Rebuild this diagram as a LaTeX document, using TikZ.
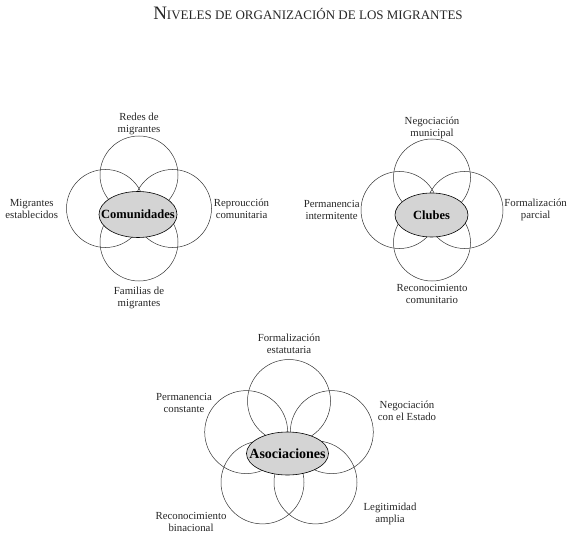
\documentclass[tikz,border=0pt]{standalone}
\usepackage{fontspec}
\setmainfont{Liberation Serif}
\usetikzlibrary{shapes.geometric, positioning}
\tikzset{
  % The 'ring' style is the thin open circle around each core
  ring/.style={draw=black!80, line width=0.5pt, shape=circle, inner sep=0pt},
  % The 'core' style is the gray ellipse holding the level name
  core/.style={fill=black!17, draw=black, line width=0.6pt, shape=ellipse, inner xsep=-12pt, inner ysep=0pt, font=\bfseries\fontsize{12.5}{14}\selectfont},
  % The 'tag-text' style is for the small labels around the circles
  tag-text/.style={font=\fontsize{10.8}{12}\selectfont, align=center, text=black!85, inner sep=0pt},
  % The 'title-text' style is for the heading at the top
  title-text/.style={anchor=center, text=black!85, inner sep=0pt}
}

\begin{document}
\begin{tikzpicture}[x=1pt, y=-1pt]

  \useasboundingbox (0,0) rectangle (577,537);

  % Heading
  \node[title-text] at (308,13) (title) {{\fontsize{19}{19}\selectfont N}{\fontsize{13}{13}\selectfont IVELES DE ORGANIZACIÓN DE LOS MIGRANTES}};

  % Comunidades: four circles round the core
  \begin{scope}[shift={(139,208.5)}]
    \node[ring, minimum size=78pt] at (0,-33.5) (com-top) {};
    \node[ring, minimum size=78pt] at (-33.5,0) (com-left) {};
    \node[ring, minimum size=78pt] at (33.5,0) (com-right) {};
    \node[ring, minimum size=78pt] at (0,33.5) (com-bottom) {};
    \node[core, minimum width=78pt, minimum height=46pt] at (-1,6) (com-core) {Comunidades};
  \end{scope}
  \node[tag-text, above=1pt of com-top] (com-redes) {Redes de\\migrantes};
  \node[tag-text, left=8pt of com-left] (com-estab) {Migrantes\\establecidos};
  \node[tag-text, right=2pt of com-right] (com-repro) {Reproucción\\comunitaria};
  \node[tag-text, below=6pt of com-bottom] (com-fam) {Familias de\\migrantes};

  % Clubes: same layout, a bit tighter
  \begin{scope}[shift={(432,210)}]
    \node[ring, minimum size=77pt] at (0,-32.5) (club-top) {};
    \node[ring, minimum size=77pt] at (-32.5,0) (club-left) {};
    \node[ring, minimum size=77pt] at (32.5,0) (club-right) {};
    \node[ring, minimum size=77pt] at (0,32.5) (club-bottom) {};
    \node[core, minimum width=73pt, minimum height=44pt] at (-0.5,5) (club-core) {Clubes};
  \end{scope}
  \node[tag-text, above=0pt of club-top] (club-nego) {Negociación\\municipal};
  \node[tag-text, left=1pt of club-left] (club-perm) {Permanencia\\intermitente};
  \node[tag-text, right=1pt of club-right] (club-formal) {Formalización\\parcial};
  \node[tag-text, below=3pt of club-bottom] (club-recon) {Reconocimiento\\comunitario};

  % Asociaciones: five circles on a pentagon
  \begin{scope}[shift={(289,446)}]
    \node[ring, minimum size=83pt] at (0,-45) (aso-top) {};
    \node[ring, minimum size=83pt] at (-42.8,-13.9) (aso-upleft) {};
    \node[ring, minimum size=83pt] at (42.8,-13.9) (aso-upright) {};
    \node[ring, minimum size=83pt] at (-26.5,36.4) (aso-lowleft) {};
    \node[ring, minimum size=83pt] at (26.5,36.4) (aso-lowright) {};
    \node[core, minimum width=82pt, minimum height=43pt, font=\bfseries\fontsize{14}{16}\selectfont] at (-1.5,7.5) (aso-core) {Asociaciones};
    % labels round the flower
    \node[tag-text] at (0,-102) (aso-formal) {Formalización\\estatutaria};
    \node[tag-text] at (-105,-43) (aso-perm) {Permanencia\\constante};
    \node[tag-text] at (118,-35) (aso-nego) {Negociación\\con el Estado};
    \node[tag-text] at (-98,76) (aso-recon) {Reconocimiento\\binacional};
    \node[tag-text] at (101,68) (aso-legit) {Legitimidad\\amplia};
  \end{scope}

\end{tikzpicture}
\end{document}
